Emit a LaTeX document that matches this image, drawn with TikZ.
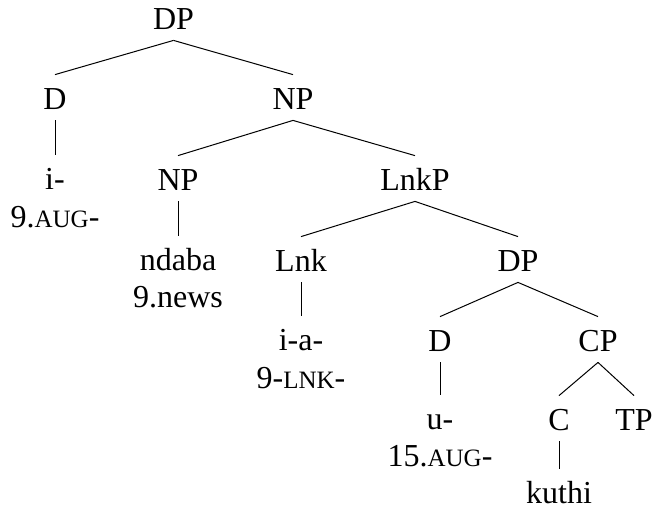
\documentclass[tikz,border=0pt]{standalone}
\usepackage{fontspec}
\setmainfont{Liberation Serif}
\newcommand{\glosscap}[1]{{\fontsize{12.5}{15}\selectfont #1}}
\tikzset{
	cat/.style={anchor=base,inner xsep=0pt,inner ysep=5.5pt,text height=11.5pt,text depth=0pt,font=\fontsize{16}{19}\selectfont},
	leaf/.style={cat,inner ysep=0pt,text height=17pt},
	gloss/.style={anchor=base,inner sep=0pt,font=\fontsize{16}{19}\selectfont},
	branch/.style={line width=0.5pt}
}
\begin{document}
\begin{tikzpicture}[x=0.5pt,y=-0.5pt]
\useasboundingbox (0,0) rectangle (653,510);
% categories
\node[cat] (dp) at (173.5,29) {DP};
\node[cat] (d) at (55,109) {D};
\node[cat] (np) at (293,109) {NP};
\node[cat] (npl) at (178,190) {NP};
\node[cat] (lnkp) at (415,190) {LnkP};
\node[cat] (lnk) at (301,271) {Lnk};
\node[cat] (dpl) at (518,271) {DP};
\node[cat] (dl) at (440,351) {D};
\node[cat] (cp) at (598,351) {CP};
\node[cat] (c) at (559,430) {C};
\node[cat] (tp) at (634,430) {TP};
% leaves
\node[leaf] (aug) at (55,189) {i-};
\node[gloss] (auggl) at (55,227) {9.\glosscap{AUG}-};
\node[leaf] (ndaba) at (178,270) {ndaba};
\node[gloss] (ndabagl) at (178,307) {9.news};
\node[leaf] (ia) at (301,350) {i-a-};
\node[gloss] (iagl) at (301,388) {9-\glosscap{LNK}-};
\node[leaf] (u) at (440,429) {u-};
\node[gloss] (ugl) at (440,466) {15.\glosscap{AUG}-};
\node[leaf] (kuthi) at (559,503) {kuthi};
% branches
\draw[branch] (dp.south) -- (d.north);
\draw[branch] (dp.south) -- (np.north);
\draw[branch] (d.south) -- (aug.north);
\draw[branch] (np.south) -- (npl.north);
\draw[branch] (np.south) -- (lnkp.north);
\draw[branch] (npl.south) -- (ndaba.north);
\draw[branch] (lnkp.south) -- (lnk.north);
\draw[branch] (lnkp.south) -- (dpl.north);
\draw[branch] (lnk.south) -- (ia.north);
\draw[branch] (dpl.south) -- (dl.north);
\draw[branch] (dpl.south) -- (cp.north);
\draw[branch] (dl.south) -- (u.north);
\draw[branch] (cp.south) -- (c.north);
\draw[branch] (cp.south) -- (tp.north);
\draw[branch] (c.south) -- (kuthi.north);
\end{tikzpicture}
\end{document}
